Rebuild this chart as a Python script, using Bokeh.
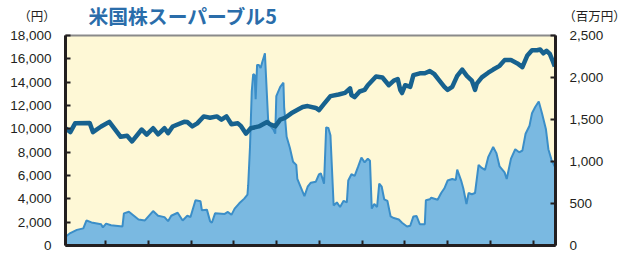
from bokeh.plotting import figure
from bokeh.layouts import column
from bokeh.models import Range1d, LinearAxis, FixedTicker, NumeralTickFormatter, ColumnDataSource, Label
from bokeh.embed import file_html
from bokeh.resources import INLINE

# --- data (month index; ticks every 12 months) ---
price_m = [0.7, 2.05, 3.4, 7.5, 8.4, 10.7, 13.0, 16.2, 18.0, 19.4, 22.1, 23.5, 25.3, 26.7, 28.5, 29.5, 30.8, 34.0, 34.9, 36.3,
           37.7, 39.5, 41.3, 43.2, 44.5, 45.9, 47.3, 49.1, 50.0, 51.4, 52.7, 55.0, 57.3, 58.2, 59.6, 61.0, 62.3, 64.1, 66.0, 67.3,
           68.7, 71.0, 71.9, 73.3, 75.1, 77.4, 79.2, 80.6, 81.0, 81.9, 83.3, 84.7, 85.6, 87.9, 89.7, 91.5, 92.9, 94.0, 94.7, 95.2,
           96.1, 97.5, 98.4, 100.2, 101.6, 103.0, 104.3, 105.7, 107.1, 108.0, 109.3, 110.7, 112.1, 113.4, 114.8, 115.7, 116.2, 117.6, 119.4, 120.8,
           122.6, 124.0, 125.8, 127.6, 129.0, 130.4, 131.7, 133.1, 134.0, 134.9, 135.8, 136.7, 137.6, 138.1]
price_v = [10050, 9720, 10470, 10500, 9720, 10200, 10600, 9320, 9400, 8920, 9940, 9500, 10050, 9530, 10050, 9630, 10200, 10600, 10580, 10206,
           10470, 11065, 10950, 11065, 10790, 11065, 10390, 10470, 10230, 9588, 10045, 10206, 10580, 10390, 10206, 10790, 10929, 11330, 11650, 11870,
           11950, 11790, 11600, 12134, 12800, 12940, 13080, 13475, 12900, 12720, 13200, 13340, 13740, 14490, 14400, 13740, 14140, 14270, 13340, 13070,
           13740, 13600, 14600, 14760, 14760, 14950, 14680, 14140, 13600, 13340, 13600, 14545, 15080, 14545, 14140, 13340, 13880, 14410, 14810, 15080,
           15400, 15890, 15890, 15610, 15290, 16290, 16740, 16740, 16800, 16470, 16690, 16420, 15750, 15350]

asset_m = [0.7, 2.05, 3.9, 5.7, 6.6, 8.0, 10.7, 11.2, 12.1, 13.5, 16.7, 17.1, 18.5, 19.9, 21.2, 23.0, 25.3, 26.7, 28.5, 29.5,
           30.4, 32.2, 33.6, 34.9, 35.8, 37.2, 38.6, 39.0, 40.4, 41.3, 41.8, 42.7, 45.4, 46.3, 47.3, 48.2, 49.5, 50.9, 51.8, 52.0,
           52.5, 53.0, 53.4, 53.8, 54.1, 54.5, 55.0, 55.5, 55.9, 56.7, 57.0, 57.6, 58.2, 59.1, 59.6, 59.9, 61.0, 61.9, 62.1, 62.8,
           63.7, 64.6, 65.5, 65.8, 66.9, 67.8, 68.7, 69.6, 71.0, 71.9, 72.4, 73.3, 73.9, 74.5, 75.1, 76.0, 76.9, 77.8, 78.8, 79.7,
           80.1, 81.0, 81.9, 82.9, 83.8, 84.7, 85.6, 86.2, 86.7, 87.4, 88.2, 88.8, 89.5, 90.2, 91.1, 92.0, 92.9, 94.3, 95.2, 96.6,
           97.5, 98.4, 99.3, 100.2, 101.6, 101.9, 103.0, 103.4, 105.2, 106.2, 107.1, 108.0, 109.3, 110.3, 110.7, 111.8, 112.4, 113.3, 113.9, 114.8,
           115.7, 116.7, 117.6, 118.5, 119.4, 120.8, 121.7, 122.6, 124.0, 124.6, 125.8, 127.0, 128.1, 129.0, 129.9, 131.0, 131.7, 132.6, 133.6, 134.5,
           135.6, 136.3, 137.2, 138.1]
asset_v = [104, 148, 186, 204, 298, 275, 253, 215, 260, 242, 227, 383, 402, 354, 309, 298, 410, 354, 338, 290,
           354, 390, 298, 354, 340, 539, 527, 420, 427, 290, 271, 383, 376, 400, 365, 439, 502, 558, 606, 718,
           1164, 1834, 2039, 2030, 1741, 2150, 2150, 2113, 2176, 2288, 2020, 1499, 1425, 1380, 1331, 1778, 1889, 1938, 1648, 1295,
           1164, 997, 960, 792, 681, 588, 700, 748, 760, 848, 860, 737, 1406, 1400, 1313, 476, 513, 458, 532, 513,
           773, 848, 830, 941, 1046, 990, 1034, 1010, 439, 494, 458, 737, 700, 550, 530, 346, 327, 309, 271, 227,
           235, 346, 350, 253, 253, 539, 550, 569, 545, 625, 681, 773, 792, 780, 904, 773, 681, 494, 625, 610,
           625, 960, 923, 900, 1052, 1172, 1100, 941, 870, 792, 1034, 1146, 1110, 1130, 1331, 1425, 1574, 1648, 1715, 1574,
           1387, 1146, 1016, 941]

x_ticks = [12, 24, 36, 48, 60, 72, 84, 96, 108, 120, 132]
left_ticks = [0, 2000, 4000, 6000, 8000, 10000, 12000, 14000, 16000, 18000]
right_ticks = [0, 500, 1000, 1500, 2000, 2500]

title_text = "米国株スーパーブル5"
left_unit = "（円）"
right_unit = "（百万円）"

X0, X1 = 0.7, 138.3
cjk = "Noto Sans CJK JP"
W = 627
HEAD_H = 29
BL, BR = 65, 72

# ---------- header strip (title + unit captions) ----------
head = figure(width=W, height=HEAD_H, output_backend="svg", toolbar_location=None,
              x_range=Range1d(X0, X1), y_range=Range1d(0, HEAD_H),
              x_axis_location=None, y_axis_location=None)
head.min_border_left = BL
head.min_border_right = BR
head.min_border_top = 0
head.min_border_bottom = 0
head.outline_line_color = None
head.xgrid.visible = False
head.ygrid.visible = False
head.background_fill_color = "white"
head.border_fill_color = "white"

head.add_layout(Label(x=X0, y=HEAD_H - 14.5, x_offset=23, text=title_text,
                      text_font=cjk, text_font_size="19.8px", text_font_style="bold",
                      text_color="#2A6DAA", text_baseline="middle", text_align="left"))
head.add_layout(Label(x=X0, y=HEAD_H - 15, x_offset=-28.5, text=left_unit,
                      text_font=cjk, text_font_size="12.5px", text_color="#231F20",
                      text_baseline="middle", text_align="center"), "left")
head.add_layout(Label(x=X1, y=HEAD_H - 15, x_offset=39, text=right_unit,
                      text_font=cjk, text_font_size="12.5px", text_color="#231F20",
                      text_baseline="middle", text_align="center"), "right")

# ---------- main chart ----------
p = figure(width=W, height=253 - HEAD_H, output_backend="svg", toolbar_location=None,
           x_range=Range1d(X0, X1), y_range=Range1d(0, 18000))
p.extra_y_ranges = {"assets": Range1d(0, 2500)}
p.min_border_left = BL
p.min_border_right = BR
p.min_border_top = 6
p.min_border_bottom = 8
p.background_fill_color = "#FEF8D6"
p.border_fill_color = "white"
p.outline_line_color = "#8a8a8a"
p.outline_line_width = 2
p.xgrid.visible = False
p.ygrid.visible = False

asrc = ColumnDataSource(dict(x=asset_m, y=asset_v))
p.varea(x="x", y1=0, y2="y", source=asrc, y_range_name="assets", fill_color="#7AB9E1")
p.line(x="x", y="y", source=asrc, y_range_name="assets", line_color="#3B8EC8", line_width=2)

psrc = ColumnDataSource(dict(x=price_m, y=price_v))
p.line(x="x", y="y", source=psrc, line_color="#17628F", line_width=4.5, line_join="round")

tick_font = "Liberation Sans"

def style_axis(ax):
    ax.axis_line_color = "#231F20"
    ax.axis_line_width = 3
    ax.major_tick_line_color = "#231F20"
    ax.major_tick_line_width = 2
    ax.major_tick_in = 5
    ax.major_tick_out = 0
    ax.minor_tick_line_color = None
    ax.major_label_text_font = tick_font
    ax.major_label_text_font_size = "13.5px"
    ax.major_label_text_color = "#231F20"

xa = p.xaxis[0]
style_axis(xa)
xa.ticker = FixedTicker(ticks=x_ticks)
xa.major_label_overrides = {t: "" for t in x_ticks}
xa.major_label_standoff = 0

ya = p.yaxis[0]
style_axis(ya)
ya.ticker = FixedTicker(ticks=left_ticks)
ya.formatter = NumeralTickFormatter(format="0,0")
ya.major_label_standoff = 14

ra = LinearAxis(y_range_name="assets")
style_axis(ra)
ra.ticker = FixedTicker(ticks=right_ticks)
ra.formatter = NumeralTickFormatter(format="0,0")
ra.major_label_standoff = 14
p.add_layout(ra, "right")

layout = column(head, p, spacing=0)
open("out.html", "w").write(file_html(layout, INLINE))
